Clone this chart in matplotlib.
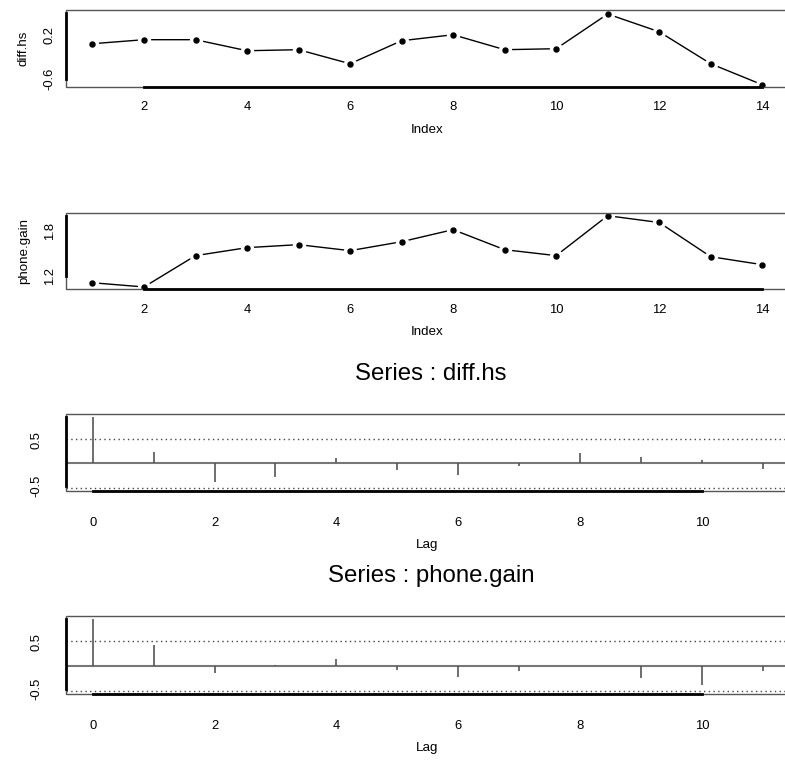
import matplotlib
matplotlib.use('Agg')
import matplotlib.pyplot as plt
from matplotlib.patches import Rectangle
import numpy as np

# ---------------- data ----------------
index = np.arange(1, 15)
diff_hs = [0.04, 0.114, 0.114, -0.089, -0.07, -0.328, 0.095, 0.205,
           -0.07, -0.052, 0.586, 0.26, -0.328, -0.714]
phone_gain = [1.11, 1.054, 1.47, 1.576, 1.616, 1.536, 1.655, 1.815,
              1.549, 1.47, 2.0, 1.91, 1.456, 1.35]
lags = np.arange(0, 12)
acf_diff_hs = [1.0, 0.236, -0.415, -0.30, 0.114, -0.143, -0.25, -0.05,
               0.229, 0.136, 0.064, -0.114]
acf_phone_gain = [1.0, 0.436, -0.157, 0.01, 0.15, -0.086, -0.236, -0.114,
                  -0.01, -0.264, -0.414, -0.114]
n_obs = 14
ci = 2 / np.sqrt(n_obs)

series_titles = ['Series : diff.hs', 'Series : phone.gain']

plt.rcParams['font.family'] = ['Liberation Sans', 'DejaVu Sans']

W, H = 785, 761
fig = plt.figure(figsize=(W / 100, H / 100), dpi=100)

BOX = '#555555'
FS = 9.4


def add_ax(top, bottom, left=66, right=789):
    return fig.add_axes([left / W, 1 - bottom / H, (right - left) / W, (bottom - top) / H])


def style(ax, xticks, xb, yticks, ylabels, yb, xpad, ypad):
    for s in ax.spines.values():
        s.set_visible(False)
    ax.add_patch(Rectangle((0, 0), 1, 1, transform=ax.transAxes, fill=False,
                           edgecolor=BOX, lw=1.0, clip_on=False, zorder=2.6))
    for side, b in (('bottom', xb), ('left', yb)):
        sp = ax.spines[side]
        sp.set_visible(True)
        sp.set_bounds(*b)
        sp.set_color('black')
        sp.set_linewidth(2.0)
        sp.set_zorder(2.7)
    ax.set_xticks(xticks)
    ax.set_xticklabels([str(t) for t in xticks])
    ax.set_yticks(yticks)
    ax.set_yticklabels(ylabels, rotation=90, va='center')
    ax.tick_params(axis='x', length=0, labelsize=FS, pad=xpad)
    ax.tick_params(axis='y', length=0, labelsize=FS, pad=ypad)


def line_panel(ax, y, ylim, yticks, ylabels, ylabel):
    ax.plot(index, y, '-', color='black', lw=1.0, zorder=2)
    ax.plot(index, y, 'o', ms=9.6, mfc='white', mec='none', zorder=2.1)
    ax.plot(index, y, 'o', ms=3.6, mfc='black', mec='black', zorder=2.2)
    ax.set_xlim(0.486, 14.52)
    ax.set_ylim(*ylim)
    style(ax, [2, 4, 6, 8, 10, 12, 14], (2, 14), yticks, ylabels,
          (yticks[0], yticks[-1]), 10.4, 7.4)
    ax.set_xlabel('Index', fontsize=FS + 0.2, labelpad=7.7)
    ax.set_ylabel(ylabel, fontsize=FS + 0.2, labelpad=9.9)


def acf_panel(ax, vals):
    ax.vlines(lags, 0, vals, color='#555555', lw=1.2, zorder=2)
    ax.axhline(0, color='#777777', lw=1.5, zorder=1.9)
    for c in (ci, -ci):
        ax.axhline(c, color='#444444', lw=1.0, linestyle=(0, (1, 2.4)), zorder=1.8)
    ax.set_xlim(-0.438, 11.43)
    ax.set_ylim(-0.595, 1.062)
    style(ax, [0, 2, 4, 6, 8, 10], (0, 10), [-0.5, 0, 0.5, 1.0],
          ['-0.5', '', '0.5', ''], (-0.5, 1.0), 19.0, 16.7)
    ax.set_xlabel('Lag', fontsize=FS + 0.2, labelpad=7.0)


ax1 = add_ax(10, 87)
line_panel(ax1, diff_hs, (-0.756, 0.66), [-0.6, -0.2, 0.2, 0.6],
           ['-0.6', '', '0.2', ''], 'diff.hs')

ax2 = add_ax(212.7, 289.3)
line_panel(ax2, phone_gain, (1.023, 2.04), [1.2, 1.4, 1.6, 1.8, 2.0],
           ['1.2', '', '', '1.8', ''], 'phone.gain')

ax3 = add_ax(414.3, 490.7)
acf_panel(ax3, acf_diff_hs)

ax4 = add_ax(616, 693.7)
acf_panel(ax4, acf_phone_gain)

for title, base in zip(series_titles, (380, 582)):
    fig.text(431 / W, 1 - base / H, title, ha='center', va='baseline', fontsize=17.3)

fig.savefig('out.png', dpi=100)
